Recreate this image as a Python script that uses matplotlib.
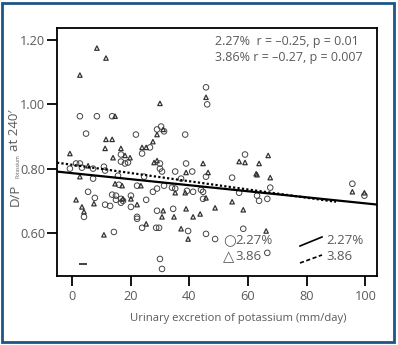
import matplotlib
matplotlib.use("Agg")
import matplotlib.pyplot as plt
from matplotlib.patches import Rectangle

plt.rcParams['font.family'] = ['Open Sans', 'DejaVu Sans']

# 2.27% group (circles)
circ_x = [2.7, 8.5, 13.7, 4.8, 21.8, 38.6, 29.0, 30.4, 31.4, 26.6, 23.9, 16.7, 16.7, 18.1,
          19.1, 1.4, 2.7, 3.4, -0.7, 7.2, 10.9, 11.3, 15.7, 24.6, 30.0, 30.0, 7.2, 16.0,
          22.2, 29.0, 31.4, 5.5, 7.8, 4.1, 11.3, 13.0, 13.7, 15.0, 15.0, 16.7, 17.4, 16.7,
          20.1, 20.1, 25.3, 27.6, 29.0, 22.2, 22.2, 23.9, 28.7, 29.7, 14.3, 30.0, 30.7,
          34.1, 35.2, 39.2, 41.3, 44.0, 44.7, 44.7, 57.0, 63.1, 63.8, 66.6, 34.5, 39.6,
          45.7, 48.8, 58.4, 66.6, 45.7, 46.1, 59.0, 38.9, 35.2, 41.0, 45.7, 54.6, 30.7,
          37.2, 67.6, 95.6, 99.7]
circ_y = [0.963, 0.963, 0.963, 0.909, 0.906, 0.906, 0.922, 0.931, 0.916, 0.866, 0.847, 0.844,
          0.822, 0.816, 0.819, 0.816, 0.816, 0.803, 0.800, 0.800, 0.806, 0.794, 0.778, 0.775,
          0.816, 0.800, 0.769, 0.750, 0.747, 0.738, 0.747, 0.728, 0.709, 0.650, 0.688, 0.684,
          0.719, 0.716, 0.703, 0.706, 0.700, 0.694, 0.716, 0.681, 0.703, 0.728, 0.669, 0.650,
          0.644, 0.616, 0.616, 0.616, 0.603, 0.519, 0.488, 0.741, 0.738, 0.731, 0.728, 0.734,
          0.728, 0.706, 0.725, 0.716, 0.700, 0.706, 0.675, 0.606, 0.597, 0.581, 0.613, 0.538,
          1.053, 1.000, 0.844, 0.816, 0.791, 0.791, 0.775, 0.772, 0.791, 0.769, 0.741, 0.753,
          0.716]

# 3.86% group (triangles)
tri_x = [8.5, 11.6, 2.7, 30.0, 45.7, 14.7, 11.6, 13.7, 29.0, 31.1, 27.6, 11.3, 16.7, 23.9,
         25.3, -0.7, 14.0, 18.1, 19.8, 5.5, 28.0, 29.0, 2.7, 14.7, 17.1, 23.5, 1.4, 3.4, 4.1,
         7.5, 17.4, 20.1, 22.2, 31.1, 30.7, 25.3, 10.9, 35.2, 38.6, 45.7, 34.8, 38.9, 41.3,
         43.7, 48.8, 58.4, 37.2, 39.6, 66.2, 66.9, 57.0, 59.0, 63.8, 62.8, 44.7, 38.9, 46.4,
         63.1, 67.6, 54.6, 95.6, 99.7]
tri_y = [1.175, 1.144, 1.091, 1.003, 1.022, 0.963, 0.891, 0.891, 0.906, 0.922, 0.884, 0.863,
         0.863, 0.866, 0.866, 0.847, 0.834, 0.841, 0.834, 0.809, 0.819, 0.825, 0.775, 0.753,
         0.747, 0.747, 0.703, 0.681, 0.666, 0.691, 0.706, 0.706, 0.688, 0.669, 0.650, 0.628,
         0.594, 0.725, 0.725, 0.709, 0.650, 0.675, 0.650, 0.659, 0.678, 0.672, 0.613, 0.581,
         0.606, 0.841, 0.822, 0.819, 0.816, 0.784, 0.816, 0.788, 0.788, 0.781, 0.772, 0.697,
         0.728, 0.725]

# stray dash mark
dash_x = [3.8]
dash_y = [0.503]

# regression lines (intercept, slope) and x ranges
fit_227 = (0.786, -0.00094)
fit_386 = (0.812, -0.00128)
fit_227_range = [-5.1, 104.0]
fit_386_range = [-5.1, 90.0]

xticks = [0, 20, 40, 60, 80, 100]
yticks = [0.60, 0.80, 1.00, 1.20]
yticklabels = ['0.60', '0.80', '1.00', '1.20']

W, H = 398, 345
fig = plt.figure(figsize=(W / 100, H / 100), dpi=100)
ax = fig.add_axes([57 / W, 1 - 276 / H, 320 / W, 248 / H])

gray = '#5a5a5a'
ax.scatter(circ_x, circ_y, s=16, marker='o', facecolors='none', edgecolors='#444444',
           linewidths=0.7, zorder=3)
ax.scatter(tri_x, tri_y, s=10, marker='^', facecolors='none', edgecolors='#333333',
           linewidths=0.9, zorder=3)
ax.scatter(dash_x, dash_y, s=40, marker='_', color='#222222', linewidths=1.2, zorder=3)

xs = fit_227_range
ax.plot(xs, [fit_227[0] + fit_227[1] * x for x in xs], color='black', lw=1.6, zorder=4)
xs = fit_386_range
ax.plot(xs, [fit_386[0] + fit_386[1] * x for x in xs], color='black', lw=1.6,
        linestyle=(0, (1, 1)), zorder=4)

ax.set_xlim(-5.1, 104)
ax.set_ylim(0.466, 1.2375)
ax.set_xticks(xticks)
ax.set_yticks(yticks)
ax.set_yticklabels(yticklabels)
ax.tick_params(axis='both', direction='out', length=7, width=1.3, color='black',
               labelcolor=gray, labelsize=9.2)
ax.tick_params(axis='y', pad=1.5)
ax.tick_params(axis='x', pad=3)
for s in ax.spines.values():
    s.set_linewidth(1.3)
    s.set_color('black')

def ftext(px, py, s, **kw):
    fig.text(px / W, 1 - py / H, s, **kw)

# x label
ftext(238, 318, 'Urinary excretion of potassium (mm/day)', ha='center', va='center',
      color=gray, fontsize=8.1)

# y label pieces
ftext(15, 195, 'D/P', rotation=90, ha='center', va='center', color=gray, fontsize=9.5)
ftext(18.5, 166, 'Potassium', rotation=90, ha='center', va='center', color=gray, fontsize=3.5)
ftext(15, 130, "at 240\u2032", rotation=90, ha='center', va='center', color=gray, fontsize=9.5)

# statistics text
ftext(215, 41, '2.27%  r = \u20130.25, p = 0.01', ha='left', va='center', color=gray, fontsize=9)
ftext(215, 57, '3.86% r = \u20130.27, p = 0.007', ha='left', va='center', color=gray, fontsize=9)

# legend
ftext(223, 241, '\u25cb', ha='left', va='center', color=gray, fontsize=10.5,
      family=['DejaVu Sans'])
ftext(235, 241, '2.27%', ha='left', va='center', color=gray, fontsize=9.5)
ftext(223, 257, '\u25b3', ha='left', va='center', color=gray, fontsize=10.5,
      family=['DejaVu Sans'])
ftext(235, 257, '3.86', ha='left', va='center', color=gray, fontsize=9.5)
fig.add_artist(plt.Line2D([300 / W, 322 / W], [1 - 246 / H, 1 - 237 / H], color='black', lw=1.2))
fig.add_artist(plt.Line2D([300 / W, 322 / W], [1 - 263 / H, 1 - 255 / H], color='black', lw=1.2,
                          linestyle=(0, (2.5, 1.5))))
ftext(326, 241, '2.27%', ha='left', va='center', color=gray, fontsize=9.5)
ftext(326, 257, '3.86', ha='left', va='center', color=gray, fontsize=9.5)

# outer blue frame
fig.add_artist(Rectangle((2 / W, 3 / H), 392 / W, 339 / H, transform=fig.transFigure,
                         fill=False, edgecolor='#1d5589', lw=2.0))

fig.savefig('out.png', dpi=100)
